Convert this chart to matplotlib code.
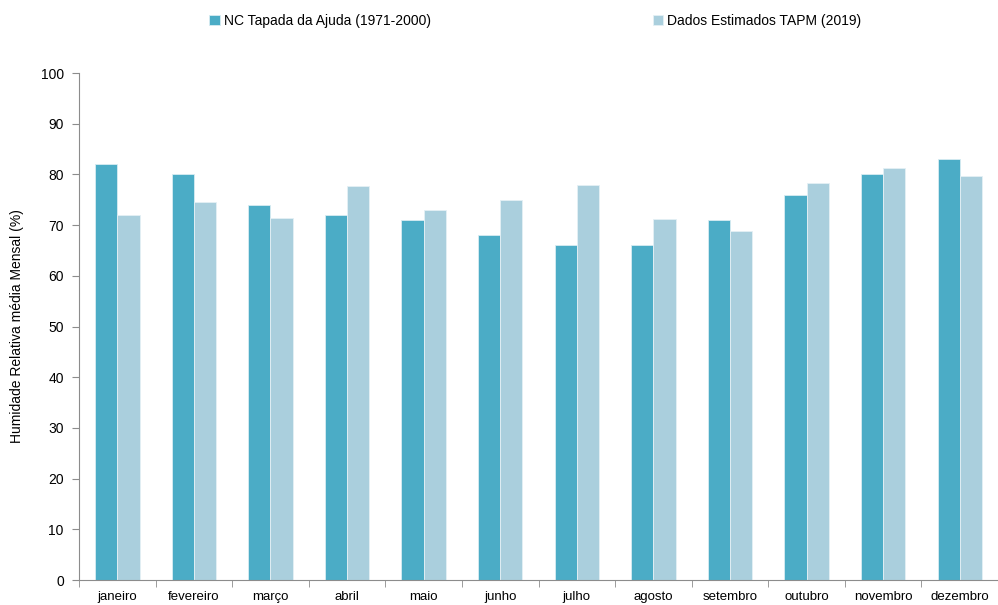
import matplotlib
matplotlib.use("Agg")
import matplotlib.pyplot as plt
import numpy as np
from matplotlib.ticker import FixedLocator, MultipleLocator

plt.rcParams['font.family'] = ['Liberation Sans', 'DejaVu Sans']

months = ["janeiro", "fevereiro", "março", "abril", "maio", "junho",
          "julho", "agosto", "setembro", "outubro", "novembro", "dezembro"]
normal_1971_2000 = [82, 80, 74, 72, 71, 68, 66, 66, 71, 76, 80, 83]
tapm_2019 = [72.0, 74.5, 71.4, 77.7, 72.9, 75.0, 77.9, 71.3, 68.9, 78.3, 81.2, 79.7]

label_normal = "NC Tapada da Ajuda (1971-2000)"
label_tapm = "Dados Estimados TAPM (2019)"
ylabel = "Humidade Relativa média Mensal (%)"

c_dark = "#4bacc6"
c_light = "#aacfdd"
grey = "#8c8c8c"

fig = plt.figure(figsize=(9.98, 6.05), dpi=100)
ax = fig.add_axes([0.0792, 0.0413, 0.9208, 0.838])

x = np.arange(len(months))
w = 0.29
ax.bar(x - w / 2, normal_1971_2000, width=w, color=c_dark, label=label_normal,
       edgecolor="#d8ecf2", linewidth=0.6)
ax.bar(x + w / 2, tapm_2019, width=w, color=c_light, label=label_tapm,
       edgecolor="#e4f0f5", linewidth=0.6)

ax.set_xlim(-0.5, len(months) - 0.5)
ax.set_ylim(0, 100)
ax.yaxis.set_major_locator(MultipleLocator(10))
ax.set_xticks(x)
ax.set_xticklabels(months, fontsize=9.5)
ax.xaxis.set_minor_locator(FixedLocator(np.arange(-0.5, len(months), 1.0)))
ax.tick_params(axis="x", which="major", length=0, pad=8)
ax.tick_params(axis="x", which="minor", length=5, color=grey, direction="out")
ax.tick_params(axis="y", length=5, color=grey, labelsize=10, pad=6)

for s in ("top", "right"):
    ax.spines[s].set_visible(False)
for s in ("left", "bottom"):
    ax.spines[s].set_color(grey)
    ax.spines[s].set_linewidth(0.8)

ax.set_ylabel(ylabel, fontsize=10, labelpad=12)

fig.legend(loc="upper left", bbox_to_anchor=(0.197, 0.998), ncol=2,
           frameon=False, fontsize=10, handlelength=0.75, handleheight=0.75,
           handletextpad=0.3, columnspacing=16.0)

fig.savefig("out.png", dpi=100)
